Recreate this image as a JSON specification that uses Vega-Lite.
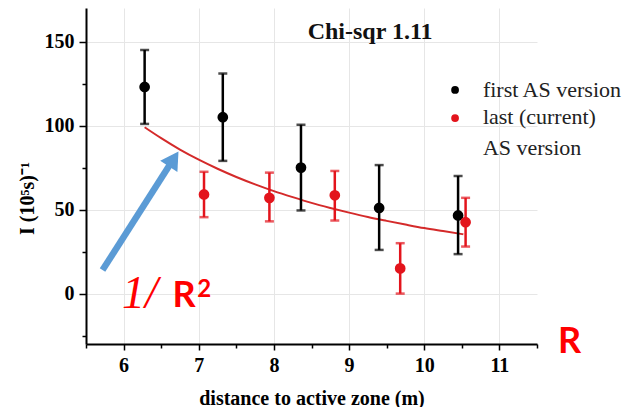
{
  "$schema": "https://vega.github.io/schema/vega-lite/v6.json",
  "width": 451,
  "height": 336,
  "autosize": "none",
  "padding": {"left": 86, "top": 8, "right": 90, "bottom": 63},
  "config": {"view": {"stroke": null}, "font": "Liberation Serif",
    "axis": {"labelFont": "Liberation Serif", "labelFontWeight": "bold", "labelFontSize": 20, "labelColor": "#000", "titleFont": "Liberation Serif", "titleFontWeight": "bold", "titleColor": "#000"}},
  "datasets": {
    "pts": [
      {"series": "first AS version", "x": 6.28, "y": 123, "lo": 101, "hi": 145},
      {"series": "first AS version", "x": 7.32, "y": 105, "lo": 79, "hi": 131},
      {"series": "first AS version", "x": 8.36, "y": 75, "lo": 49.5, "hi": 100.5},
      {"series": "first AS version", "x": 9.40, "y": 51, "lo": 26, "hi": 76.5},
      {"series": "first AS version", "x": 10.45, "y": 46.5, "lo": 23.5, "hi": 70},
      {"series": "last (current) AS version", "x": 7.07, "y": 59, "lo": 45.5, "hi": 72.5},
      {"series": "last (current) AS version", "x": 7.94, "y": 57, "lo": 43, "hi": 72},
      {"series": "last (current) AS version", "x": 8.81, "y": 58.5, "lo": 43.5, "hi": 73},
      {"series": "last (current) AS version", "x": 9.68, "y": 15, "lo": 0, "hi": 30},
      {"series": "last (current) AS version", "x": 10.55, "y": 42.5, "lo": 28, "hi": 57}
    ],
    "fit": [
      {"x": 6.28, "y": 99}, {"x": 6.5, "y": 92.5}, {"x": 6.75, "y": 85.7}, {"x": 7.0, "y": 79.7}, {"x": 7.25, "y": 74.3}, {"x": 7.5, "y": 69.4},
      {"x": 7.75, "y": 65}, {"x": 8.0, "y": 61}, {"x": 8.25, "y": 57.4}, {"x": 8.5, "y": 54}, {"x": 8.75, "y": 51}, {"x": 9.0, "y": 48.2}, {"x": 9.25, "y": 45.6}, {"x": 9.5, "y": 43.3},
      {"x": 9.75, "y": 41.1}, {"x": 10.0, "y": 39}, {"x": 10.25, "y": 37.2}, {"x": 10.52, "y": 35.3}
    ],
    "legend": [
      {"series": "first AS version", "x": 10.41, "y": 121.2},
      {"series": "last (current) AS version", "x": 10.41, "y": 104.5}
    ],
    "legendText": [
      {"label": "first AS version", "x": 10.78, "y": 117.1},
      {"label": "last (current)", "x": 10.78, "y": 101},
      {"label": "AS version", "x": 10.78, "y": 82.5}
    ],
    "arrow": [{"x": 5.72, "y": 14, "x2": 6.666, "y2": 80.2}]
  },
  "layer": [
    {
      "data": {"name": "fit"},
      "mark": {"type": "line", "color": "#d42a2a", "strokeWidth": 2, "interpolate": "monotone"},
      "encoding": {
        "x": {"field": "x", "type": "quantitative", "scale": {"domain": [5.5, 11.5], "nice": false, "zero": false},
          "axis": {"values": [6, 7, 8, 9, 10, 11], "grid": true, "gridColor": "#e6e6e6", "gridWidth": 1,
            "domainColor": "#000", "domainWidth": 2, "tickColor": "#000", "tickWidth": 1.5, "tickSize": 6,
            "labelFont": "Liberation Serif", "labelFontWeight": "bold", "labelFontSize": 20, "labelColor": "#000", "labelPadding": 5,
            "title": "distance to active zone (m)", "titleFont": "Liberation Serif", "titleFontWeight": "bold", "titleFontSize": 20, "titleColor": "#000", "titlePadding": 13, "orient": "bottom"}},
        "y": {"field": "y", "type": "quantitative", "scale": {"domain": [-30, 170], "nice": false, "zero": false},
          "axis": {"values": [0, 50, 100, 150], "grid": true, "gridColor": "#e6e6e6", "gridWidth": 1,
            "domainColor": "#000", "domainWidth": 2, "tickColor": "#000", "tickWidth": 1.5, "tickSize": 7,
            "labelFont": "Liberation Serif", "labelFontWeight": "bold", "labelFontSize": 20, "labelColor": "#000", "labelPadding": 5,
            "title": "I (10⁵s)⁻¹", "titleFont": "Liberation Serif", "titleFontWeight": "bold", "titleFontSize": 20, "titleColor": "#000",
            "titleAngle": -90, "titleX": -59, "titleY": 190, "titleAlign": "center", "titleBaseline": "middle", "orient": "left"}}
      }
    },
    {
      "data": {"name": "pts"},
      "mark": {"type": "rule", "strokeWidth": 2.5},
      "encoding": {
        "x": {"field": "x", "type": "quantitative", "scale": {"domain": [5.5, 11.5], "nice": false, "zero": false},
          "axis": {"values": [5.5, 6.5, 7.5, 8.5, 9.5, 10.5, 11.5], "grid": false, "labels": false, "domain": false, "tickColor": "#000", "tickWidth": 1.5, "tickSize": 4, "title": null, "orient": "bottom"}},
        "y": {"field": "lo", "type": "quantitative", "scale": {"domain": [-30, 170], "nice": false, "zero": false},
          "axis": {"values": [-25, 25, 75, 125], "grid": false, "labels": false, "domain": false, "tickColor": "#000", "tickWidth": 1.5, "tickSize": 4, "title": null, "orient": "left"}},
        "y2": {"field": "hi"},
        "color": {"field": "series", "type": "nominal", "scale": {"domain": ["first AS version", "last (current) AS version"], "range": ["#000000", "#e3141c"]}, "legend": null}
      }
    },
    {
      "data": {"name": "pts"},
      "mark": {"type": "tick", "orient": "horizontal", "thickness": 2.5, "size": 9},
      "encoding": {
        "x": {"field": "x", "type": "quantitative", "scale": {"domain": [5.5, 11.5], "nice": false, "zero": false}, "axis": null},
        "y": {"field": "lo", "type": "quantitative", "scale": {"domain": [-30, 170], "nice": false, "zero": false}, "axis": null},
        "color": {"field": "series", "type": "nominal", "legend": null}
      }
    },
    {
      "data": {"name": "pts"},
      "mark": {"type": "tick", "orient": "horizontal", "thickness": 2.5, "size": 9},
      "encoding": {
        "x": {"field": "x", "type": "quantitative", "scale": {"domain": [5.5, 11.5], "nice": false, "zero": false}, "axis": null},
        "y": {"field": "hi", "type": "quantitative", "scale": {"domain": [-30, 170], "nice": false, "zero": false}, "axis": null},
        "color": {"field": "series", "type": "nominal", "legend": null}
      }
    },
    {
      "data": {"name": "pts"},
      "mark": {"type": "point", "filled": true, "opacity": 1, "size": 115},
      "encoding": {
        "x": {"field": "x", "type": "quantitative", "scale": {"domain": [5.5, 11.5], "nice": false, "zero": false}, "axis": null},
        "y": {"field": "y", "type": "quantitative", "scale": {"domain": [-30, 170], "nice": false, "zero": false}, "axis": null},
        "color": {"field": "series", "type": "nominal", "legend": null}
      }
    },
    {
      "data": {"name": "legend"},
      "mark": {"type": "point", "filled": true, "opacity": 1, "size": 60},
      "encoding": {
        "x": {"field": "x", "type": "quantitative", "scale": {"domain": [5.5, 11.5], "nice": false, "zero": false}, "axis": null},
        "y": {"field": "y", "type": "quantitative", "scale": {"domain": [-30, 170], "nice": false, "zero": false}, "axis": null},
        "color": {"field": "series", "type": "nominal", "legend": null}
      }
    },
    {
      "data": {"name": "legendText"},
      "mark": {"type": "text", "font": "Liberation Serif", "fontSize": 22, "align": "left", "baseline": "alphabetic", "color": "#222"},
      "encoding": {
        "x": {"field": "x", "type": "quantitative", "scale": {"domain": [5.5, 11.5], "nice": false, "zero": false}, "axis": null},
        "y": {"field": "y", "type": "quantitative", "scale": {"domain": [-30, 170], "nice": false, "zero": false}, "axis": null},
        "text": {"field": "label"}
      }
    },
    {
      "data": {"values": [{"label": "Chi-sqr 1.11", "x": 9.28, "y": 151.5}]},
      "mark": {"type": "text", "font": "Liberation Serif", "fontSize": 24, "fontWeight": "bold", "align": "center", "baseline": "alphabetic", "color": "#111"},
      "encoding": {
        "x": {"field": "x", "type": "quantitative", "scale": {"domain": [5.5, 11.5], "nice": false, "zero": false}, "axis": null},
        "y": {"field": "y", "type": "quantitative", "scale": {"domain": [-30, 170], "nice": false, "zero": false}, "axis": null},
        "text": {"field": "label"}
      }
    },
    {
      "data": {"name": "arrow"},
      "mark": {"type": "rule", "color": "#5b9bd5", "strokeWidth": 6.5},
      "encoding": {
        "x": {"field": "x", "type": "quantitative", "scale": {"domain": [5.5, 11.5], "nice": false, "zero": false}, "axis": null},
        "y": {"field": "y", "type": "quantitative", "scale": {"domain": [-30, 170], "nice": false, "zero": false}, "axis": null},
        "x2": {"field": "x2"},
        "y2": {"field": "y2"}
      }
    },
    {
      "data": {"name": "arrow"},
      "mark": {"type": "point", "shape": "triangle-up", "filled": true, "opacity": 1, "color": "#5b9bd5", "size": 420, "angle": 33},
      "encoding": {
        "x": {"field": "x2", "type": "quantitative", "scale": {"domain": [5.5, 11.5], "nice": false, "zero": false}, "axis": null},
        "y": {"field": "y2", "type": "quantitative", "scale": {"domain": [-30, 170], "nice": false, "zero": false}, "axis": null}
      }
    },
    {
      "data": {"values": [{"label": "1/", "x": 5.98, "y": -8.6}]},
      "mark": {"type": "text", "font": "Liberation Serif", "fontSize": 46, "fontStyle": "italic", "align": "left", "baseline": "alphabetic", "color": "#ff0000"},
      "encoding": {
        "x": {"field": "x", "type": "quantitative", "scale": {"domain": [5.5, 11.5], "nice": false, "zero": false}, "axis": null},
        "y": {"field": "y", "type": "quantitative", "scale": {"domain": [-30, 170], "nice": false, "zero": false}, "axis": null},
        "text": {"field": "label"}
      }
    },
    {
      "data": {"values": [{"label": "R", "x": 6.65, "y": -8}, {"label": "R", "x": 11.78, "y": -35.4}]},
      "mark": {"type": "text", "font": "Lato", "fontSize": 36, "fontWeight": "bold", "align": "left", "baseline": "alphabetic", "color": "#ff0000"},
      "encoding": {
        "x": {"field": "x", "type": "quantitative", "scale": {"domain": [5.5, 11.5], "nice": false, "zero": false}, "axis": null},
        "y": {"field": "y", "type": "quantitative", "scale": {"domain": [-30, 170], "nice": false, "zero": false}, "axis": null},
        "text": {"field": "label"}
      }
    },
    {
      "data": {"values": [{"label": "2", "x": 6.98, "y": -2.1}]},
      "mark": {"type": "text", "font": "Lato", "fontSize": 24, "fontWeight": "bold", "align": "left", "baseline": "alphabetic", "color": "#ff0000"},
      "encoding": {
        "x": {"field": "x", "type": "quantitative", "scale": {"domain": [5.5, 11.5], "nice": false, "zero": false}, "axis": null},
        "y": {"field": "y", "type": "quantitative", "scale": {"domain": [-30, 170], "nice": false, "zero": false}, "axis": null},
        "text": {"field": "label"}
      }
    }
  ],
  "resolve": {"axis": {"x": "independent", "y": "independent"}}
}
